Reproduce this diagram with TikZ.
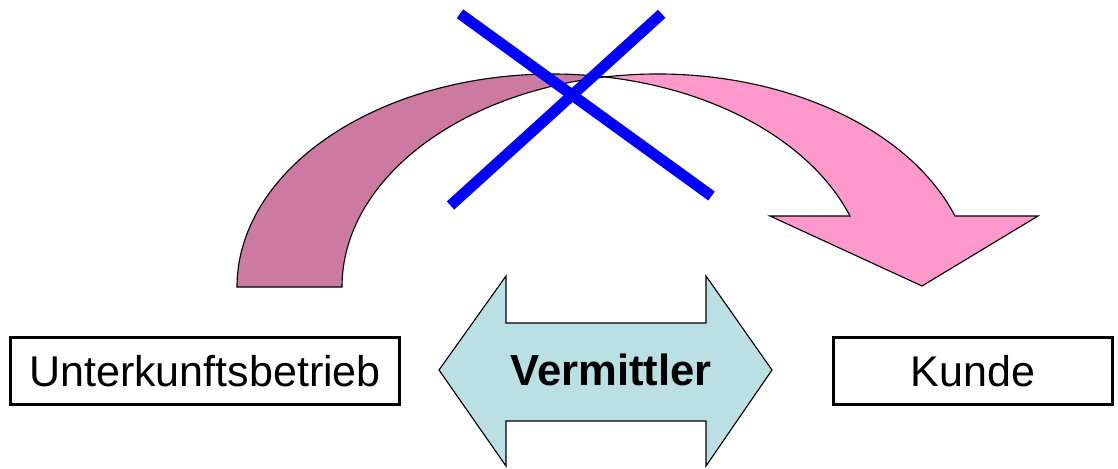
\documentclass[tikz,border=0pt]{standalone}
\usepackage{fontspec}
\setmainfont{Liberation Sans}
\usepackage{tikz}

\definecolor{tailmauve}{RGB}{204,122,162}
\definecolor{frontpink}{RGB}{255,153,204}
\definecolor{paleblue}{RGB}{187,224,227}

\begin{document}
\begin{tikzpicture}[x=0.25mm,y=0.25mm,
  outline/.style={draw=black,line width=0.8pt},
  box/.style={draw=black,line width=2.1pt,inner sep=0pt,
    minimum height=16.75mm,font=\fontsize{30.6}{36}\selectfont},
  cross/.style={draw=blue,line width=2.75mm}]
\useasboundingbox (0,0) rectangle (1118,468);

\draw[outline,fill=tailmauve] (237,181)
  arc[start angle=180,end angle=80.42,x radius=78.875mm,y radius=53.25mm]
  arc[start angle=99.58,end angle=180,x radius=78.875mm,y radius=53.25mm]
  -- cycle;
\draw[outline,fill=frontpink] (850,252) -- (770,252) -- (922,182)
  -- (1038,252) -- (955,252)
  arc[start angle=19.47,end angle=99.58,x radius=78.875mm,y radius=53.25mm]
  arc[start angle=80.42,end angle=19.47,x radius=78.875mm,y radius=53.25mm]
  -- cycle;

\draw[cross] (460,454.2) -- (711.5,272);
\draw[cross] (661.7,454.2) -- (450.5,262.5);

\draw[outline,fill=paleblue] (439,98) -- (506,192) -- (506,145) -- (706,145)
  -- (706,192) -- (772,98) -- (706,2) -- (706,47) -- (506,47) -- (506,2)
  -- cycle;
\node[font=\fontsize{31}{37}\selectfont\bfseries] (vermittler) at (611,98) {Vermittler};

\node[box,minimum width=97.25mm] (betrieb) at (205,97) {Unterkunftsbetrieb};
\node[box,minimum width=69.75mm] (kunde) at (973,97) {Kunde};
\end{tikzpicture}
\end{document}
